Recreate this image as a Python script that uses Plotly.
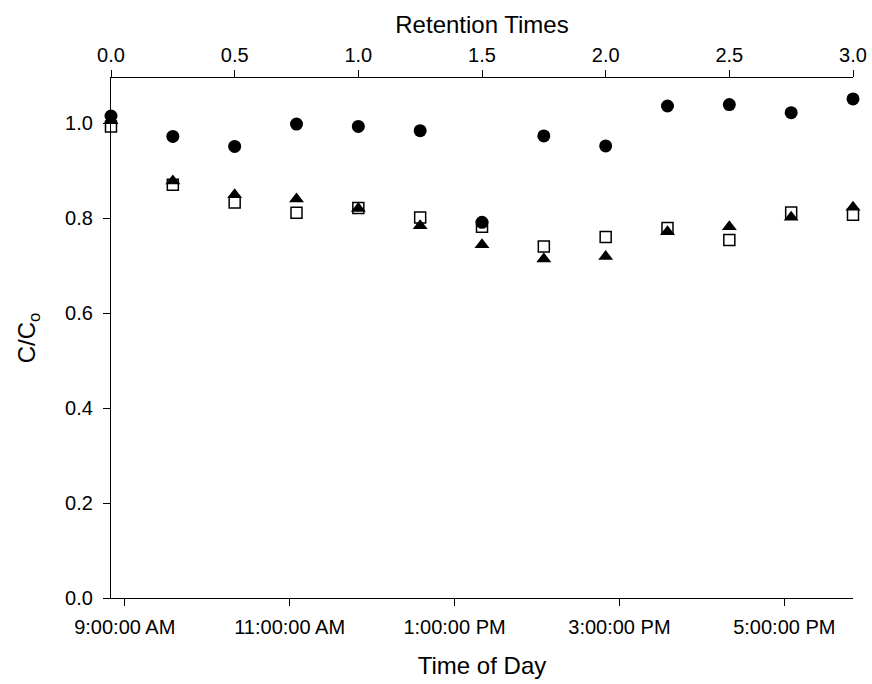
import plotly.graph_objects as go

retention = [0.0, 0.25, 0.5, 0.75, 1.0, 1.25, 1.5, 1.75, 2.0, 2.25, 2.5, 2.75, 3.0]
times = ["2024-01-01 08:50", "2024-01-01 09:35", "2024-01-01 10:20", "2024-01-01 11:05",
         "2024-01-01 11:50", "2024-01-01 12:35", "2024-01-01 13:20", "2024-01-01 14:05",
         "2024-01-01 14:50", "2024-01-01 15:35", "2024-01-01 16:20", "2024-01-01 17:05",
         "2024-01-01 17:50"]
circles = [1.015, 0.972, 0.951, 0.998, 0.993, 0.984, 0.791, 0.973, 0.952, 1.036, 1.039, 1.022, 1.051]
squares = [0.993, 0.870, 0.833, 0.811, 0.821, 0.801, 0.782, 0.740, 0.760, 0.779, 0.754, 0.812, 0.807]
triangles = [1.005, 0.878, 0.849, 0.840, 0.820, 0.784, 0.744, 0.714, 0.719, 0.771, 0.782, 0.802, 0.823]

time_ticks = ["2024-01-01 09:00", "2024-01-01 11:00", "2024-01-01 13:00", "2024-01-01 15:00", "2024-01-01 17:00"]
time_labels = ["9:00:00 AM", "11:00:00 AM", "1:00:00 PM", "3:00:00 PM", "5:00:00 PM"]
ret_ticks = [0.0, 0.5, 1.0, 1.5, 2.0, 2.5, 3.0]
y_ticks = [0.0, 0.2, 0.4, 0.6, 0.8, 1.0]

FONT = "Liberation Sans, Arial, sans-serif"

fig = go.Figure()
# invisible trace on the time axis so it renders
fig.add_trace(go.Scatter(x=times, y=squares, mode="markers", marker=dict(opacity=0),
                         hoverinfo="skip", showlegend=False, xaxis="x", yaxis="y"))
fig.add_trace(go.Scatter(x=retention, y=squares, mode="markers", xaxis="x2", yaxis="y",
                         cliponaxis=False,
                         marker=dict(symbol="square-open", size=11, color="black",
                                     line=dict(width=1.5, color="black")),
                         showlegend=False))
fig.add_trace(go.Scatter(x=retention, y=triangles, mode="markers", xaxis="x2", yaxis="y",
                         cliponaxis=False,
                         marker=dict(symbol="triangle-up", size=13, color="black"),
                         showlegend=False))
fig.add_trace(go.Scatter(x=retention, y=circles, mode="markers", xaxis="x2", yaxis="y",
                         cliponaxis=False,
                         marker=dict(symbol="circle", size=13, color="black"),
                         showlegend=False))

axis_common = dict(showgrid=False, zeroline=False, showline=True, linecolor="black",
                   linewidth=1.3, ticks="outside", ticklen=7, tickwidth=1.3, tickcolor="black",
                   automargin=False,
                   tickfont=dict(family=FONT, size=20, color="black"))

fig.update_layout(
    width=872, height=684,
    margin=dict(l=111, r=19, t=78, b=86),
    paper_bgcolor="white", plot_bgcolor="white",
    font=dict(family=FONT, color="black"),
    xaxis=dict(**axis_common, type="date", range=["2024-01-01 08:50", "2024-01-01 17:50"],
               tickvals=time_ticks, ticktext=time_labels, ticklabelstandoff=4,
               title=dict(text="Time of Day", font=dict(family=FONT, size=24), standoff=20)),
    xaxis2=dict(**axis_common, overlaying="x", side="top", range=[0, 3.0],
                tickvals=ret_ticks, ticktext=[f"{v:.1f}" for v in ret_ticks],
                title=dict(text="Retention Times", font=dict(family=FONT, size=24), standoff=3)),
    yaxis=dict(**axis_common, range=[0, 1.095], tickvals=y_ticks,
               ticktext=[f"{v:.1f}" for v in y_ticks], ticklabelstandoff=6,
               title=dict(text="C/C<sub>o</sub>", font=dict(family=FONT, size=24), standoff=22)),
)

fig.write_html("out.html")
